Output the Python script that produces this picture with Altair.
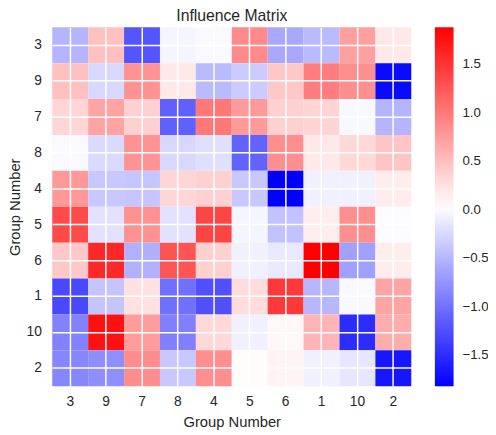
import altair as alt
import pandas as pd

groups = ["3", "9", "7", "8", "4", "5", "6", "1", "10", "2"]

row_3 = [-0.51, 0.49, -1.20, -0.04, -0.01, 0.88, -0.60, -0.47, 0.72, 0.20]
row_9 = [0.49, -0.25, 0.81, 0.20, -0.47, -0.35, 0.43, 0.97, 0.85, -1.75]
row_7 = [0.33, 0.70, 0.37, -1.12, 1.01, 0.76, 0.37, 0.34, -0.02, -0.51]
row_8 = [-0.01, -0.24, 0.81, -0.25, -0.20, -1.11, 0.85, 0.20, 0.31, 0.46]
row_4 = [0.78, -0.37, -0.39, 0.33, 0.37, -0.37, -1.82, -0.08, -0.08, 0.17]
row_5 = [1.34, -0.18, 0.83, -0.18, 1.39, -0.04, -0.41, 0.15, 0.85, 0.01]
row_6 = [0.43, 1.59, -0.54, 1.27, 0.37, -0.08, -0.14, 1.88, -0.66, 0.17]
row_1 = [-1.30, -0.40, 0.25, -1.01, -1.24, 0.28, 1.47, -0.49, -0.01, 0.69]
row_10 = [-0.88, 1.76, 0.75, -0.89, 0.31, -0.08, 0.08, 0.57, -1.50, 0.63]
row_2 = [-0.85, -0.79, 0.86, -0.37, 0.85, 0.05, 0.12, -0.08, -0.15, -1.65]

rows = [row_3, row_9, row_7, row_8, row_4, row_5, row_6, row_1, row_10, row_2]
colorbar_ticks = [-1.5, -1.0, -0.5, 0.0, 0.5, 1.0, 1.5]

records = []
for rg, vals in zip(groups, rows):
    for cg, v in zip(groups, vals):
        records.append({"row": rg, "col": cg, "value": v})
df = pd.DataFrame(records)

FONT = "Liberation Sans"
TXT = "#262626"

chart = alt.Chart(df).mark_rect().encode(
    x=alt.X("col:N", sort=groups, title="Group Number",
            scale=alt.Scale(paddingInner=0, paddingOuter=0),
            axis=alt.Axis(labelAngle=0, ticks=False, domain=False, grid=True,
                          gridColor="white", gridWidth=1.5, gridOpacity=1,
                          zindex=1, bandPosition=0.5, labelPadding=9,
                          labelFontSize=14, titleFontSize=15, titlePadding=6,
                          titleFontWeight="normal")),
    y=alt.Y("row:N", sort=groups, title="Group Number",
            scale=alt.Scale(paddingInner=0, paddingOuter=0),
            axis=alt.Axis(ticks=False, domain=False, grid=True,
                          gridColor="white", gridWidth=1.5, gridOpacity=1,
                          zindex=1, bandPosition=0.5, labelPadding=11,
                          labelFontSize=14, titleFontSize=15, titlePadding=3.5,
                          titleFontWeight="normal")),
    color=alt.Color("value:Q",
                    scale=alt.Scale(domain=[-1.82, 0.03, 1.88],
                                    range=["#0000ff", "#ffffff", "#ff0000"],
                                    interpolate="rgb"),
                    legend=alt.Legend(orient="none", legendX=389, legendY=0,
                                      direction="vertical", title=None,
                                      gradientLength=365, gradientThickness=19,
                                      gradientStrokeWidth=0,
                                      values=colorbar_ticks, labelOverlap=False,
                                      labelOffset=9, labelFontSize=13.5,
                                      labelExpr="replace(format(datum.value, '.1f'), '-', '\u2212')",
                                      padding=0)),
).properties(
    width=365, height=365,
    title=alt.TitleParams("Influence Matrix", fontSize=16, fontWeight="normal",
                          anchor="middle", offset=3.5, color=TXT, font=FONT),
    autosize=alt.AutoSizeParams(type="none"),
    padding={"left": 45, "top": 16, "right": 78, "bottom": 46},
).configure(font=FONT).configure_axis(
    labelColor=TXT, titleColor=TXT, labelFont=FONT, titleFont=FONT
).configure_legend(
    labelColor=TXT, labelFont=FONT
).configure_view(stroke=None)

chart.save("out.html", embed_options={"renderer": "svg", "actions": False})
